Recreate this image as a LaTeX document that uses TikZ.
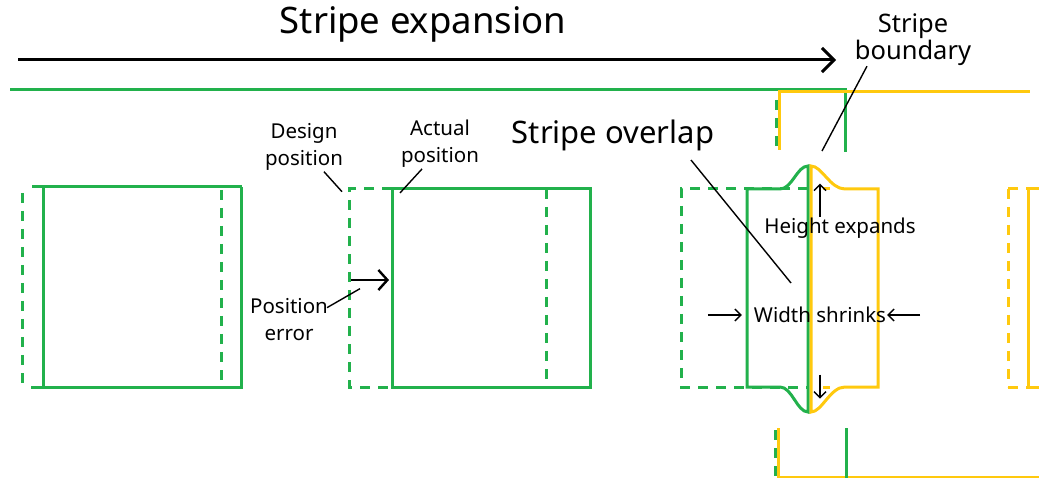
\documentclass[tikz,border=0pt]{standalone}
\usepackage{fontspec}
\setmainfont{Noto Sans}
\usetikzlibrary{calc,arrows.meta}
\definecolor{vertbande}{RGB}{34,177,76}
\definecolor{jaunebande}{RGB}{255,201,14}
\tikzstyle{vert} = [draw=vertbande, line width=3pt]
\tikzstyle{vertpointille} = [vert, dash pattern=on 10pt off 8pt]
\tikzstyle{jaune} = [draw=jaunebande, line width=3pt]
\tikzstyle{jaunepointille} = [jaune, dash pattern=on 10pt off 8pt]
\tikzstyle{legende} = [align=center, inner sep=1pt, font=\fontsize{20.5}{27}\selectfont]
\tikzstyle{trait} = [line width=1.4pt]
\tikzstyle{fleche} = [trait, -{Straight Barb[length=6pt,width=12pt]}]

\begin{document}
\begin{tikzpicture}[x=1pt, y=-1pt]

        \useasboundingbox (0,0) rectangle (1039,478);

        % titre et sens d'expansion
        \node (titre) [font=\fontsize{36.5}{40}\selectfont] at (423,24) {Stripe expansion};
        \coordinate (debut) at (18,60);
        \coordinate (fin) at (836,60);
        \draw[line width=3pt, -{Straight Barb[length=12pt,width=24pt]}] (debut) -- (fin);

        % bandes en haut et en bas
        \draw[vert] (10,90) -- (845,90) -- (845,152);
        \draw[jaune] (779,150) -- (779,92) -- (1030,92);
        \draw[vertpointille] (776,100) -- (776,150);
        \draw[jaune] (778,428) -- (778,477) -- (1039,477);
        \draw[vertpointille] (775,430) -- (775,478);
        \draw[vert] (846,428) -- (846,478);

        % premier motif
        \draw[vert] (32,187) -- (242,187);
        \draw[vert] (31,387) -- (243,387);
        \draw[vert] (43,187) -- (43,387);
        \draw[vert] (241,187) -- (241,387);
        \draw[vertpointille] (22,193) -- (22,390);
        \draw[vertpointille] (221,190) -- (221,387);

        % deuxieme motif : position de conception / position reelle
        \draw[vertpointille] (392,189) -- (349,189) -- (349,387) -- (392,387);
        \draw[vert] (392,189) rectangle (590,387);
        \draw[vertpointille] (546,189) -- (546,387);
        \coordinate (E0) at (351,280);
        \coordinate (E1) at (389,280);
        \draw[line width=2.4pt, -{Straight Barb[length=9pt,width=20pt]}] (E0) -- (E1);

        \node (conception) [legende] at (304,147) {Design\\position};
        \node (reelle) [legende] at (440,144) {Actual\\position};
        \node (erreur) [legende] at (289,320) {Position\\error};
        \draw[trait] ($(conception.south)+(20,0)$) -- ($(conception.south)+(38,20)$);
        \draw[trait] ($(reelle.south)+(-18,0)$) -- ($(reelle.south)+(-40,24)$);
        \draw[trait] ($(erreur.north east)+(-2,10)$) -- ($(erreur.north east)+(31,-9)$);

        % chevauchement des deux bandes
        \draw[vertpointille] (808,189) -- (681,189) -- (681,387) -- (808,387);
        \draw[vert] (808,166) .. controls (797,166) and (792,189) .. (780,189) -- (747,189)
            -- (747,387) -- (780,387) .. controls (792,387) and (797,412) .. (808,412) -- cycle;
        \draw[jaune] (811,166) .. controls (822,166) and (830,189) .. (845,189) -- (878,189)
            -- (878,387) -- (845,387) .. controls (830,387) and (822,412) .. (811,412) -- cycle;
        \draw[jaune] (823,189) -- (830,189);
        \draw[jaune] (823,387) -- (830,387);

        % motif suivant (jaune)
        \draw[jaunepointille] (1008,189) -- (1008,387);
        \draw[jaune] (1028,189) -- (1028,387);
        \draw[jaunepointille] (1008,189) -- (1028,189);
        \draw[jaunepointille] (1008,387) -- (1028,387);
        \draw[jaune] (1028,189) -- (1039,189);
        \draw[jaune] (1028,387) -- (1039,387);

        \node (hauteur) [legende] at (840,228) {Height expands};
        \node (largeur) [legende] at (820,315) {Width shrinks};
        \node (chevauchement) [font=\fontsize{31}{34}\selectfont] at (613,135) {Stripe overlap};
        \node (frontiere) [legende, font=\fontsize{25.5}{27}\selectfont] at (913,40) {Stripe\\boundary};

        \draw[fleche] ($(hauteur.north)+(-20,0)$) -- ($(hauteur.north)+(-20,-33)$);
        \draw[fleche] ($(hauteur.north)+(-20,158)$) -- ($(hauteur.north)+(-20,182)$);
        \draw[fleche] ($(largeur.west)+(-45,0)$) -- ($(largeur.west)+(-11,0)$);
        \draw[fleche] ($(largeur.east)+(33,0)$) -- ($(largeur.east)+(0,0)$);
        \draw[trait] ($(chevauchement.south)+(78,6)$) -- (791,283);
        \draw[trait] ($(frontiere.south)+(-46,-1)$) -- (822,151);

    \end{tikzpicture}
\end{document}
